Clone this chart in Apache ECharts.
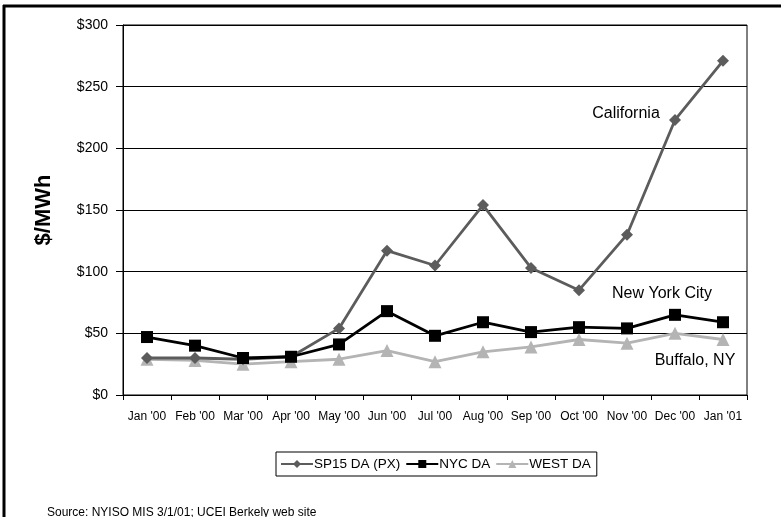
<!DOCTYPE html>
<html>
<head>
<meta charset="utf-8">
<script src="https://cdn.jsdelivr.net/npm/echarts@6/dist/echarts.min.js"></script>
<style>
  html, body { margin: 0; padding: 0; background: #fff; }
  #chart { width: 781px; height: 517px; }
</style>
</head>
<body>
<div id="chart"></div>
<script>
// Monthly day-ahead electricity prices, $/MWh
var months = ["Jan '00", "Feb '00", "Mar '00", "Apr '00", "May '00", "Jun '00", "Jul '00",
              "Aug '00", "Sep '00", "Oct '00", "Nov '00", "Dec '00", "Jan '01"];
var sp15 = [30, 30, 29, 31, 54, 117, 105, 154, 103, 85, 130, 223, 271];
var nycDA = [47, 40, 30, 31, 41, 68, 48, 59, 51, 55, 54, 65, 59];
var westDA = [29, 28, 25, 27, 29, 36, 27, 35, 39, 45, 42, 50, 45];
var seriesNames = ['SP15 DA (PX)', 'NYC DA', 'WEST DA'];
var yTicks = [0, 50, 100, 150, 200, 250, 300];

var FONT = '"Liberation Sans", Arial, Helvetica, sans-serif';

var chart = echarts.init(document.getElementById('chart'), null, { renderer: 'canvas' });

chart.setOption({
  animation: false,
  backgroundColor: '#ffffff',
  textStyle: { fontFamily: FONT },
  grid: {
    left: 123, right: 34, top: 25, bottom: 122,
    show: true, borderColor: '#000', borderWidth: 1
  },
  xAxis: {
    type: 'category',
    data: months,
    boundaryGap: true,
    axisLine: { lineStyle: { color: '#000', width: 1 } },
    axisTick: { show: true, length: 5, lineStyle: { color: '#000' } },
    axisLabel: { color: '#000', fontSize: 12, fontFamily: FONT, margin: 16, interval: 0 },
    splitLine: { show: false }
  },
  yAxis: {
    type: 'value',
    min: yTicks[0],
    max: yTicks[yTicks.length - 1],
    interval: 50,
    name: '$/MWh',
    nameLocation: 'middle',
    nameGap: 68,
    nameRotate: 90,
    nameTextStyle: { fontSize: 22, fontWeight: 'bold', color: '#000', fontFamily: FONT },
    axisLine: { show: true, lineStyle: { color: '#000', width: 1 } },
    axisTick: { show: true, length: 7, lineStyle: { color: '#000' } },
    axisLabel: {
      color: '#000', fontSize: 14, fontFamily: FONT, margin: 15,
      formatter: function (v) { return '$' + v; }
    },
    splitLine: { show: true, lineStyle: { color: '#000', width: 1 } }
  },
  legend: {
    data: seriesNames,
    left: 276,
    top: 452,
    padding: [5, 6, 5, 4],
    itemGap: 5,
    itemWidth: 32,
    itemHeight: 10,
    borderColor: '#000',
    borderWidth: 1,
    textStyle: { color: '#000', fontSize: 13.5, fontFamily: FONT, padding: [0, 0, 0, -4] }
  },
  series: [
    {
      name: seriesNames[0],
      type: 'line',
      data: sp15,
      symbol: 'diamond',
      symbolSize: 12,
      itemStyle: { color: '#5c5c5c' },
      lineStyle: { color: '#5c5c5c', width: 2.8 },
      z: 3
    },
    {
      name: seriesNames[1],
      type: 'line',
      data: nycDA,
      symbol: 'rect',
      symbolSize: 12,
      itemStyle: { color: '#000' },
      lineStyle: { color: '#000', width: 2.8 },
      z: 4
    },
    {
      name: seriesNames[2],
      type: 'line',
      data: westDA,
      symbol: 'triangle',
      symbolSize: 13,
      itemStyle: { color: '#b4b4b4' },
      lineStyle: { color: '#b4b4b4', width: 2.8 },
      z: 2
    }
  ],
  graphic: [
    // frame edges on the left and top of the slide
    { type: 'line', shape: { x1: 4, y1: 5, x2: 4, y2: 517 }, style: { stroke: '#000', lineWidth: 3 } },
    { type: 'line', shape: { x1: 3, y1: 6, x2: 781, y2: 6 }, style: { stroke: '#000', lineWidth: 3 } },
    // region labels
    { type: 'text', x: 626, y: 114, style: { text: 'California', font: '16px ' + FONT, fill: '#000', textAlign: 'center', textVerticalAlign: 'middle' } },
    { type: 'text', x: 662, y: 294, style: { text: 'New York City', font: '16px ' + FONT, fill: '#000', textAlign: 'center', textVerticalAlign: 'middle' } },
    { type: 'text', x: 695, y: 361, style: { text: 'Buffalo, NY', font: '16px ' + FONT, fill: '#000', textAlign: 'center', textVerticalAlign: 'middle' } },
    // source note
    { type: 'text', x: 47, y: 513, style: { text: 'Source: NYISO MIS 3/1/01; UCEI Berkely web site', font: '12px ' + FONT, fill: '#000', textAlign: 'left', textVerticalAlign: 'middle' } }
  ]
});
</script>
</body>
</html>
